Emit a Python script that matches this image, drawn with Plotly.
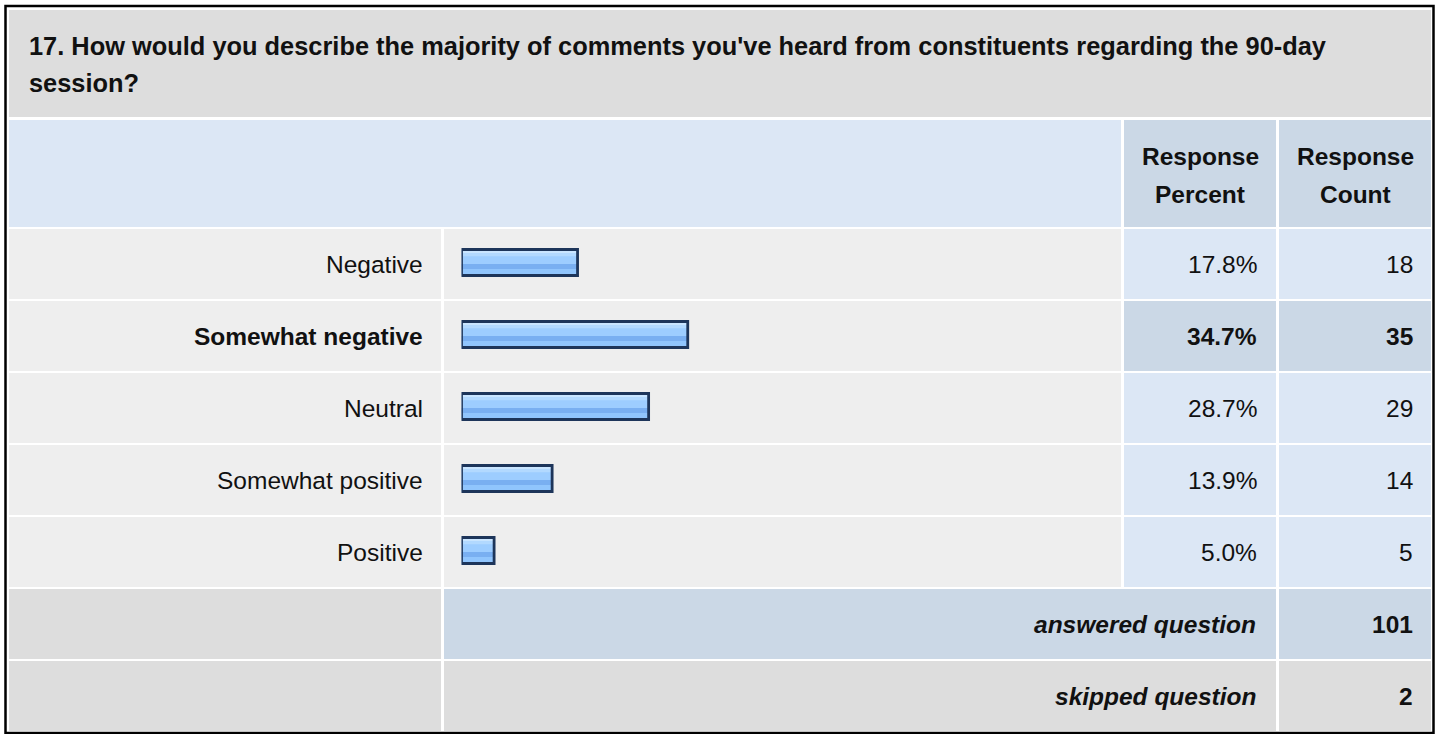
import plotly.graph_objects as go

# ---------------- data ----------------
title_lines = [
    "17. How would you describe the majority of comments you've heard from constituents regarding the 90-day",
    "session?",
]
header_percent = ["Response", "Percent"]
header_count = ["Response", "Count"]
categories = ["Negative", "Somewhat negative", "Neutral", "Somewhat positive", "Positive"]
percents = [17.8, 34.7, 28.7, 13.9, 5.0]
counts = [18, 35, 29, 14, 5]
answered_label = "answered question"
answered_count = 101
skipped_label = "skipped question"
skipped_count = 2

# ---------------- layout helpers ----------------
W, H = 1440, 734


def X(px):
    return px / W


def Y(py):
    return 1 - py / H


FONT = "Liberation Sans, Arial, Helvetica, sans-serif"
TXT = "#111111"
GREY_TITLE = "#DDDDDD"
BLUE_LIGHT = "#DCE7F5"
BLUE_MID = "#CBD8E6"
ROW_GREY = "#EEEEEE"

cols = [(9, 441), (444, 1121), (1124, 1276), (1279, 1431)]
ROW_PITCH = 72
ROW_H = 70
DATA_TOP = 229

shapes = []
annotations = []


def rect(x0, y0, x1, y1, color):
    shapes.append(dict(type="rect", xref="paper", yref="paper",
                       x0=X(x0), x1=X(x1), y0=Y(y1), y1=Y(y0),
                       fillcolor=color, line=dict(width=0), layer="below"))


def text(s, xpx, ypx, anchor="right", size=24.5):
    annotations.append(dict(text=s, xref="paper", yref="paper",
                            x=X(xpx), y=Y(ypx), xanchor=anchor, yanchor="middle",
                            showarrow=False, font=dict(family=FONT, size=size, color=TXT)))


# outer frame
shapes.append(dict(type="rect", xref="paper", yref="paper",
                   x0=X(5.5), x1=X(1433.5), y0=Y(733), y1=Y(6),
                   fillcolor="rgba(0,0,0,0)", line=dict(color="#000000", width=2.5),
                   layer="below"))

# title row
rect(9, 10, 1431, 117, GREY_TITLE)
text("<b>%s</b>" % title_lines[0], 27, 46.5, anchor="left", size=25.4)
text("<b>%s</b>" % title_lines[1], 27, 83.5, anchor="left", size=25.4)

# header row
rect(cols[0][0], 120, cols[1][1], 227, BLUE_LIGHT)
rect(cols[2][0], 120, cols[2][1], 227, BLUE_MID)
rect(cols[3][0], 120, cols[3][1], 227, BLUE_MID)
for col, lines in ((cols[2], header_percent), (cols[3], header_count)):
    cx = (col[0] + col[1]) / 2
    text("<b>%s</b>" % lines[0], cx, 156.5, anchor="center")
    text("<b>%s</b>" % lines[1], cx, 194.5, anchor="center")

# data rows
top_idx = max(range(len(percents)), key=lambda i: percents[i])
for i, (cat, p, c) in enumerate(zip(categories, percents, counts)):
    y0 = DATA_TOP + i * ROW_PITCH
    y1 = y0 + ROW_H
    cy = (y0 + y1) / 2
    hi = i == top_idx
    rect(cols[0][0], y0, cols[0][1], y1, ROW_GREY)
    rect(cols[1][0], y0, cols[1][1], y1, ROW_GREY)
    rect(cols[2][0], y0, cols[2][1], y1, BLUE_MID if hi else BLUE_LIGHT)
    rect(cols[3][0], y0, cols[3][1], y1, BLUE_MID if hi else BLUE_LIGHT)
    wrap = (lambda s: "<b>%s</b>" % s) if hi else (lambda s: s)
    text(wrap(cat), cols[0][1] - 16, cy)
    text(wrap("%.1f%%" % p), cols[2][1] - 17, cy)
    text(wrap(str(c)), cols[3][1] - 16, cy)

# summary rows
n = len(categories)
ya0 = DATA_TOP + n * ROW_PITCH
ya1 = ya0 + ROW_H
rect(cols[0][0], ya0, cols[0][1], ya1, GREY_TITLE)
rect(cols[1][0], ya0, cols[2][1], ya1, BLUE_MID)
rect(cols[3][0], ya0, cols[3][1], ya1, BLUE_MID)
text("<b><i>%s</i></b>" % answered_label, cols[2][1] - 18, (ya0 + ya1) / 2)
text("<b>%d</b>" % answered_count, cols[3][1] - 16, (ya0 + ya1) / 2)

ys0 = ya0 + ROW_PITCH
ys1 = ys0 + ROW_H
rect(cols[0][0], ys0, cols[0][1], ys1, GREY_TITLE)
rect(cols[1][0], ys0, cols[2][1], ys1, GREY_TITLE)
rect(cols[3][0], ys0, cols[3][1], ys1, GREY_TITLE)
text("<b><i>%s</i></b>" % skipped_label, cols[2][1] - 18, (ys0 + ys1) / 2)
text("<b>%d</b>" % skipped_count, cols[3][1] - 16, (ys0 + ys1) / 2)

# ---------------- bars ----------------
BAR_HALF = 13.0  # px
bar_layers = [
    (-BAR_HALF, BAR_HALF, "#9DCDFF"),
    (-11.6, -8.9, "#C9E5FF"),
    (-8.9, -6.2, "#B2D9FF"),
    (1.6, 6.6, "#79AFF1"),
    (6.6, BAR_HALF, "#90C5FD"),
]

fig = go.Figure()
for t, b, col in bar_layers:
    fig.add_trace(go.Bar(
        x=percents, y=categories, orientation="h",
        offset=t / ROW_PITCH, width=(b - t) / ROW_PITCH,
        marker=dict(color=col, line=dict(width=0)),
        hoverinfo="skip", showlegend=False,
    ))
fig.add_trace(go.Bar(
    x=percents, y=categories, orientation="h",
    offset=-BAR_HALF / ROW_PITCH, width=2 * BAR_HALF / ROW_PITCH,
    marker=dict(color="rgba(0,0,0,0)", line=dict(color="#1D355A", width=2.8)),
    hoverinfo="skip", showlegend=False,
))

first_center = DATA_TOP + ROW_H / 2 - 1.5
dom_top = first_center - ROW_PITCH / 2
dom_bot = dom_top + n * ROW_PITCH
PX_PER_PCT = 6.52
x_left = 461.5

fig.update_layout(
    width=W, height=H,
    margin=dict(l=0, r=0, t=0, b=0),
    paper_bgcolor="#FFFFFF",
    plot_bgcolor="rgba(0,0,0,0)",
    barmode="overlay",
    showlegend=False,
    hovermode=False,
    xaxis=dict(domain=[X(x_left), X(x_left + 100 * PX_PER_PCT)], range=[0, 100],
               visible=False, fixedrange=True),
    yaxis=dict(domain=[Y(dom_bot), Y(dom_top)], type="category",
               categoryorder="array", categoryarray=categories,
               range=[n - 0.5, -0.5], visible=False, fixedrange=True),
    shapes=shapes,
    annotations=annotations,
)

fig.write_html("out.html", config={"displayModeBar": False},
               post_script="document.body.style.margin='0';document.body.style.overflow='hidden';")
